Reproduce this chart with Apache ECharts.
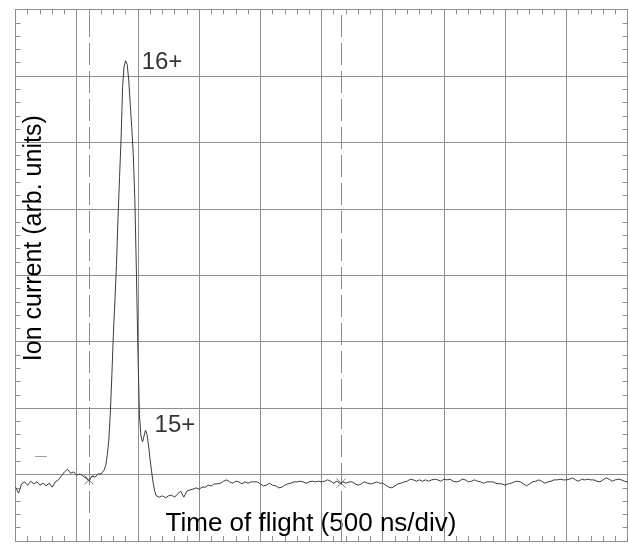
<!DOCTYPE html>
<html>
<head>
<meta charset="utf-8">
<script src="https://cdn.jsdelivr.net/npm/echarts@6/dist/echarts.min.js"></script>
<style>
html,body{margin:0;padding:0;background:#fff;}
#chart{width:628px;height:545px;}
</style>
</head>
<body>
<div id="chart"></div>
<script>
// Time of flight in ns (500 ns per division), ion current in arbitrary units (100 per division)
const baselineBefore = [
  [0,81],[25,72],[50,86],[75,89],[100,84],[125,90],[150,86],[175,89],[200,84],[225,87],
  [250,83],[275,87],[300,81],[325,89],[350,92],[375,98],[400,104],[425,108],[450,102],[475,104],
  [500,99],[525,101],[550,98],[575,95],[600,90],[625,98],[650,96],[675,101],[700,101]
];
const mainPeak = [
  [712.5,102],[725,107],[737.5,114],[750,130],[762.5,152],[775,194],[787.5,250],[800,313],
  [812.5,363],[825,416],[837.5,486],[850,547],[862.5,605],[875,684],[887.5,715],[900,723],
  [912.5,717],[925,694],[937.5,657],[950,622],[962.5,581],[975,514],[987.5,408],[1000,288],
  [1012.5,190],[1025,158],[1037.5,149],[1050,158],[1062.5,167],[1075,160],[1087.5,143],
  [1100,122],[1112.5,104],[1125,87],[1137.5,75],[1150,68],[1162.5,65],[1175,66]
];
const tailAfter = [
  [1200,68],[1225,65],[1250,68],[1275,69],[1300,66],[1325,71],[1350,75],[1375,66],[1400,75],[1425,77],
  [1450,78],[1475,80],[1500,78],[1525,81],[1550,81],[1575,84],[1600,83],[1625,86],[1650,86],[1675,87],
  [1700,90],[1725,92],[1750,89],[1775,87],[1800,90],[1825,89],[1850,86],[1875,89],[1900,87],[1925,89],
  [1950,89],[1975,89],[2000,86],[2025,83],[2050,84],[2075,87],[2100,84],[2125,83],[2150,80],[2175,81],
  [2200,84],[2225,86],[2250,87],[2275,89],[2300,89],[2325,90],[2350,89],[2375,87],[2400,89],[2425,90],
  [2450,89],[2475,90],[2500,89],[2525,90],[2550,92],[2575,90],[2600,87],[2625,90],[2650,87],[2675,89],
  [2700,87],[2725,89],[2750,89],[2775,86],[2800,84],[2825,86],[2850,89],[2875,87],[2900,86],[2925,87],
  [2950,89],[2975,87],[3000,87],[3025,84],[3050,81],[3075,80],[3100,83],[3125,86],[3150,87],[3175,89],
  [3200,90],[3225,93],[3250,92],[3275,90],[3300,92],[3325,90],[3350,92],[3375,90],[3400,92],[3425,93],
  [3450,92],[3475,90],[3500,93],[3525,92],[3550,93],[3575,90],[3600,89],[3625,90],[3650,93],[3675,92],
  [3700,89],[3725,90],[3750,92],[3775,90],[3800,89],[3825,87],[3850,89],[3875,89],[3900,89],[3925,87],
  [3950,86],[3975,86],[4000,84],[4025,86],[4050,87],[4075,89],[4100,90],[4125,89],[4150,86],[4175,83],
  [4200,86],[4225,89],[4250,90],[4275,92],[4300,90],[4325,87],[4350,89],[4375,90],[4400,92],[4425,92],
  [4450,93],[4475,92],[4500,92],[4525,93],[4550,95],[4575,92],[4600,90],[4625,93],[4650,92],[4675,93],
  [4700,92],[4725,92],[4750,90],[4775,89],[4800,92],[4825,95],[4850,93],[4875,90],[4900,92],[4925,93],
  [4950,92],[4975,90],[5000,89]
];
const peakLabels = [
  {name: '16+', value: [900, 723]},
  {name: '15+', value: [1062.5, 167]}
];
const cursorTimes = [600, 2660];
const cursorCrossings = [[600, 92], [2660, 87]];
const triggerMark = [[160, 127], [255, 127]];

const xTitle = 'Time of flight (500 ns/div)';
const yTitle = 'Ion current (arb. units)';

const trace = baselineBefore.concat(mainPeak, tailAfter);

const gridColor = '#8e8e8e';
const font = '"Liberation Sans", Arial, sans-serif';

function frameAxis(extra) {
  return Object.assign({
    type: 'value',
    axisLine: {show: true, onZero: false, lineStyle: {color: gridColor, width: 1}},
    axisTick: {show: false, inside: true},
    minorTick: {show: true, splitNumber: 5, length: 5, lineStyle: {color: gridColor, width: 1}},
    axisLabel: {show: false},
    splitLine: {show: false}
  }, extra);
}

const chart = echarts.init(document.getElementById('chart'), null, {renderer: 'canvas'});
chart.setOption({
  backgroundColor: '#ffffff',
  animation: false,
  grid: {left: 15.5, top: 9.5, right: 0.5, bottom: 4, outerBoundsMode: 'none', containLabel: false},
  xAxis: [
    frameAxis({
      min: 0, max: 5000, interval: 500, position: 'bottom',
      splitLine: {show: true, lineStyle: {color: gridColor, width: 1}},
      name: xTitle, nameLocation: 'middle', nameGap: -30, nameMoveOverlap: false,
      nameTextStyle: {fontFamily: font, fontSize: 26, color: '#000', lineHeight: 26, padding: [0, 21, 0, 0]}
    }),
    frameAxis({min: 0, max: 5000, interval: 500, position: 'top'})
  ],
  yAxis: [
    frameAxis({
      min: 0, max: 800, interval: 100, position: 'left',
      splitLine: {show: true, lineStyle: {color: gridColor, width: 1}},
      name: yTitle, nameLocation: 'middle', nameGap: -31, nameMoveOverlap: false,
      nameTextStyle: {fontFamily: font, fontSize: 25, color: '#000', lineHeight: 25, padding: [0, 0, 0, 74]}
    }),
    frameAxis({min: 0, max: 800, interval: 100, position: 'right'})
  ],
  series: [
    {
      type: 'line',
      data: trace,
      showSymbol: false,
      symbol: 'none',
      lineStyle: {color: '#3c3c3c', width: 1},
      silent: true,
      z: 5,
      markLine: {
        silent: true,
        symbol: ['none', 'none'],
        label: {show: false},
        lineStyle: {color: '#8a8a8a', width: 1, type: [22, 6]},
        data: cursorTimes.map(t => ({xAxis: t}))
          .concat([[
            {coord: triggerMark[0], lineStyle: {color: '#a0a0a0', type: 'solid', width: 1}},
            {coord: triggerMark[1]}
          ]])
      }
    },
    {
      type: 'scatter',
      data: cursorCrossings,
      symbol: 'path://M0,0L10,10M10,0L0,10',
      symbolSize: 9,
      itemStyle: {color: 'none', borderColor: '#555', borderWidth: 1},
      silent: true,
      z: 6
    },
    {
      type: 'scatter',
      data: peakLabels,
      symbolSize: 0,
      silent: true,
      z: 7,
      label: {
        show: true,
        position: 'right',
        formatter: p => p.name,
        fontFamily: font,
        fontSize: 24,
        color: '#000'
      },
      labelLayout: function (params) {
        return params.dataIndex === 0 ? {dx: 11, dy: 2} : {dx: 4, dy: -5};
      }
    }
  ]
});
</script>
</body>
</html>
